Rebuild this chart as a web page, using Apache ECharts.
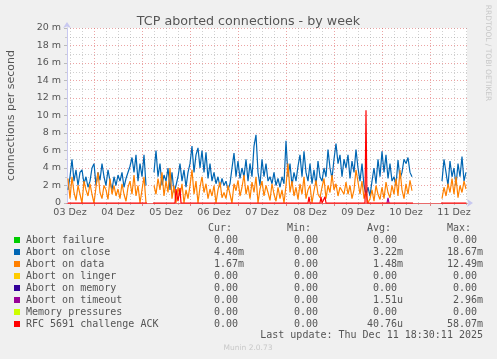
<!DOCTYPE html>
<html><head><meta charset="utf-8">
<script src="https://cdn.jsdelivr.net/npm/echarts@6/dist/echarts.min.js"></script>
<style>html,body{margin:0;padding:0;background:#f0f0f0;}#c{width:497px;height:359px;}</style>
</head><body><div id="c"></div>
<script>
// ---- data (values in milli-connections per second) ----
// x values are hours since 03 Dez 00:00; samples are hourly starting 03 Dez 11:00
const startHour = 11;
const xMin = 10.5, xMax = 210.5;
const dayLabels = ['03 Dez','04 Dez','05 Dez','06 Dez','07 Dez','08 Dez','09 Dez','10 Dez','11 Dez'];

const abortOnClose = [
 1.5,3.0,5.0,2.5,3.8,2.0,3.5, 3.8,2.2,3.0,1.8,2.5,4.0,
 4.5,2.0,3.5,2.6,4.5,3.0, 2.0,3.8,2.5,1.5,3.0,2.0,3.2,
 2.5,3.5,1.8,2.8,3.0,4.2, 5.2,3.5,5.5,2.5,4.5,3.0,5.5,2.0,
 null,null,null,
 3.5,6.0,3.0,4.5,2.0,3.2, 2.5,4.0,1.5,3.5,1.2,2.0, 3.0,4.5,2.5,3.8,1.8,3.5,
 4.5,6.5,3.5,5.5,6.3,4.0, 6.0,3.5,5.8,2.8,4.5,2.5, 3.5,2.2,3.0,1.8,2.8,2.0,
 2.5,1.5,2.2,4.0,5.7,3.0, 4.8,2.8,4.0,3.0,5.0,2.5, 4.5,3.0,6.5,7.8,3.5,2.0,
 5.0,3.0,4.5,2.5,3.0,2.2, 3.5,2.0,2.8,1.8,3.0,2.2, 7.1,3.0,4.5,2.0,3.5,2.5,
 4.2,5.5,3.0,5.9,3.5,2.5, 4.5,2.2,3.8,2.0,4.8,3.0, 2.5,4.0,3.0,6.1,4.0,2.8,
 5.0,6.8,4.5,5.5,3.0,5.0, 4.0,5.5,2.8,4.8,3.5,6.1, 4.0,2.5,4.5,2.0,1.0,1.8,
 0.8,2.5,4.0,2.2,5.0,3.0, 5.9,3.5,5.5,2.8,4.5,2.5, 3.0,2.0,4.9,2.8,3.5,5.0,
 4.5,5.2,3.5,3.0,
 null,null,null,null,null,null,null,null,null,null,null,null,null,null,
 2.5,5.0,3.5,2.0,4.8,3.0, 4.0,2.0,4.5,3.0,5.3,2.5,3.5
];
const abortOnData = [
 2.8,0.5,3.0,1.2,0.3,2.0,1.0, 0.0,2.5,1.5,0.8,2.2,1.0,
 0.0,1.8,3.5,1.2,0.5,2.0, 1.5,0.4,2.8,1.0,2.0,0.8,1.6,
 0.5,2.2,1.0,0.2,1.8,2.5, 1.0,3.2,0.8,2.0,0.0,1.5,3.0,0.0,
 null,null,null,
 2.0,1.0,2.8,1.5,3.5,0.8, 2.5,1.2,4.0,0.5,2.0,0.0, 1.8,0.8,2.2,0.0,1.5,0.5,
 2.0,3.8,1.0,2.5,0.0,1.8, 3.0,1.2,2.2,0.5,1.6,0.8, 2.0,0.0,1.5,2.4,0.6,1.2,
 0.5,2.0,1.0,0.0,2.2,1.4, 2.6,0.8,1.8,3.2,1.0,2.0, 0.5,2.4,1.2,3.0,0.0,1.6,
 2.5,0.8,2.0,1.2,0.3,2.2, 1.0,0.2,1.8,0.5,1.5,0.0, 2.0,4.5,1.2,2.5,0.8,1.8,
 0.4,2.2,1.0,3.0,0.5,1.5, 2.0,0.0,1.4,2.6,1.0,0.6, 1.8,2.8,0.5,2.0,1.2,3.2,
 1.5,2.2,0.8,1.8,2.0,1.0, 2.4,1.0,2.0,0.5,1.5,3.8, 4.0,1.0,2.5,0.5,1.2,0.0,
 0.5,1.5,0.2,2.0,1.0,0.4, 1.8,0.5,2.4,1.2,0.6,2.0, 1.0,2.8,0.8,3.8,1.5,0.5,
 2.2,1.0,2.6,1.4,
 null,null,null,null,null,null,null,null,null,null,null,null,null,null,
 0.5,1.8,0.8,2.2,1.2,2.8, 1.0,3.0,0.6,2.0,1.2,2.5,1.6
];
// RFC 5691 challenge ACK (sparse, hours / values); '-' marks missing data
const ackHours  = [11, 30, 50.5, 52, 53.5, 64.5, 65, 66, 67, 67.5, 131, 131.5, 132, 137, 137.5, 138, 139, 139.5, 140, 159.5, 160, 160.5, 183.5, 190, 197.5, 210];
const ackValues = [0, 0, 0, '-', 0, 0, 1.6, 0.2, 1.7, 0, 0, 0.7, 0, 0, 0.7, 0, 0, 0.7, 0, 0, 10.6, 0, 0, '-', 0, 0];
// Abort on timeout (sparse)
const timeoutHours  = [170.5, 171, 171.5];
const timeoutValues = [0, 0.6, 0];

// legend table
const legendNames = ['Abort failure','Abort on close','Abort on data','Abort on linger','Abort on memory','Abort on timeout','Memory pressures','RFC 5691 challenge ACK'];
const curValues = ['0.00','4.40m','1.67m','0.00','0.00','0.00','0.00','0.00'];
const minValues = ['0.00','0.00','0.00','0.00','0.00','0.00','0.00','0.00'];
const avgValues = ['0.00','3.22m','1.48m','0.00','0.00','1.51u','0.00','40.76u'];
const maxValues = ['0.00','18.67m','12.49m','0.00','0.00','2.96m','0.00','58.07m'];
const lastUpdate = 'Last update: Thu Dec 11 18:30:11 2025';

// ---- styles ----
const palette = ['#00cc00','#0066b3','#ff8000','#ffcc00','#330099','#990099','#ccff00','#ff0000'];
const mono = 'DejaVu Sans Mono';
const sans = 'DejaVu Sans';
const txt = '#555';

function fmt(s){ // munin style "%6.2lf%s"
  const m = s.match(/^([0-9.]+)(.*)$/);
  return m[1].padStart(6,' ') + m[2];
}

const midnights = [], noons = [], sixHours = [];
for (let d = 0; d <= 9; d++) {
  if (d*24 > xMin && d*24 < xMax) midnights.push(d*24);
  if (d*24+12 > xMin && d*24+12 < xMax) noons.push(d*24+12);
}
for (let h = 12; h < xMax; h += 6) if (h % 24 !== 0) sixHours.push(h);

const toPairs = (arr) => arr.map((v,i)=>[startHour+i, v === null ? '-' : v]);
const pairs = (xs, ys) => xs.map((x,i)=>[x, ys[i]]);

const graphics = [];
const rowY0 = 240, rowH = 12;
const hdrY = 228;
[['Cur:',208],['Min:',287],['Avg:',367],['Max:',447]].forEach(([t,x])=>{
  graphics.push({type:'text', x:x, y:hdrY, style:{text:t, font:'10px '+mono, fill:txt, textVerticalAlign:'middle'}});
});
legendNames.forEach((n,i)=>{
  const y = rowY0 + i*rowH;
  graphics.push({type:'rect', shape:{x:14, y:y-3, width:6, height:6}, style:{fill:palette[i]}});
  graphics.push({type:'text', x:26, y:y, style:{text:n, font:'10px '+mono, fill:txt, textVerticalAlign:'middle'}});
  graphics.push({type:'text', x:202, y:y, style:{text:fmt(curValues[i]), font:'10px '+mono, fill:txt, textVerticalAlign:'middle'}});
  graphics.push({type:'text', x:282, y:y, style:{text:fmt(minValues[i]), font:'10px '+mono, fill:txt, textVerticalAlign:'middle'}});
  graphics.push({type:'text', x:361, y:y, style:{text:fmt(avgValues[i]), font:'10px '+mono, fill:txt, textVerticalAlign:'middle'}});
  graphics.push({type:'text', x:441, y:y, style:{text:fmt(maxValues[i]), font:'10px '+mono, fill:txt, textVerticalAlign:'middle'}});
});
graphics.push({type:'text', x:483, y:335, style:{text:lastUpdate, font:'10px '+mono, fill:txt, textAlign:'right', textVerticalAlign:'middle'}});
graphics.push({type:'text', x:248, y:348, style:{text:'Munin 2.0.73', font:'7.5px '+sans, fill:'#c8c8c8', textAlign:'center', textVerticalAlign:'middle'}});
graphics.push({type:'text', x:488, y:53, rotation:-Math.PI/2, style:{text:'RRDTOOL / TOBI OETIKER', font:'7.5px '+sans, fill:'#c8c8c8', textAlign:'center', textVerticalAlign:'middle'}});

const lineSeries = (name, data, color, z) => ({
  name, type:'line', data, symbol:'none', connectNulls:false, z, clip:false,
  lineStyle:{color, width:1.2}, itemStyle:{color}, silent:true
});

const chart = echarts.init(document.getElementById('c'), null, {renderer:'canvas'});
chart.setOption({
  animation:false,
  backgroundColor:'#f0f0f0',
  title:{text:'TCP aborted connections - by week', left:'center', top:10,
    textStyle:{fontFamily:sans, fontSize:12.7, fontWeight:'normal', color:txt}},
  grid:{left:67, right:30, top:28, height:175, show:true, backgroundColor:'#ffffff', borderWidth:0,
    containLabel:false, outerBoundsMode:'none'},
  xAxis:[{
    type:'value', min:xMin, max:xMax, z:3,
    axisLine:{show:true, lineStyle:{color:'#e86a6a', width:1.2}},
    axisTick:{show:true, customValues:midnights, length:3, lineStyle:{color:'#e08080'}},
    axisLabel:{customValues:noons, margin:5, fontFamily:sans, fontSize:9.5, color:txt,
      formatter:(v)=>dayLabels[Math.round((v-12)/24)]},
    splitLine:{show:true, lineStyle:{color:'rgba(220,90,90,0.55)', type:[1,2], width:1}}
  },{
    type:'value', min:xMin, max:xMax, position:'bottom', z:1,
    axisLine:{show:true, lineStyle:{color:'#c8c8f0', width:1}, symbol:['none','arrow'], symbolSize:[6,6], symbolOffset:[0,6]},
    axisTick:{show:true, customValues:sixHours, length:2, lineStyle:{color:'#bbb'}},
    axisLabel:{show:false},
    splitLine:{show:true, lineStyle:{color:'rgba(150,150,150,0.45)', type:[1,2], width:1}}
  }],
  yAxis:{
    type:'value', min:0, max:20, interval:2,
    name:'connections per second', nameLocation:'middle', nameGap:50, nameRotate:90,
    nameTextStyle:{fontFamily:sans, fontSize:11, color:txt},
    axisLine:{show:true, lineStyle:{color:'#c8c8f0', width:1}, symbol:['none','arrow'], symbolSize:[6,6], symbolOffset:[0,6]},
    axisTick:{show:true, length:3, lineStyle:{color:'#bbb'}},
    minorTick:{show:true, splitNumber:2, length:2, lineStyle:{color:'#ccc'}},
    axisLabel:{margin:6, fontFamily:sans, fontSize:9.5, color:txt,
      formatter:(v)=> v===0 ? '0' : v+' m'},
    splitLine:{show:true, lineStyle:{color:'rgba(220,90,90,0.55)', type:[1,2], width:1}},
    minorSplitLine:{show:true, lineStyle:{color:'rgba(150,150,150,0.45)', type:[1,2], width:1}}
  },
  series:[
    lineSeries('Abort on close', toPairs(abortOnClose), palette[1], 4),
    lineSeries('Abort on data', toPairs(abortOnData), palette[2], 5),
    lineSeries('Abort on timeout', pairs(timeoutHours, timeoutValues), palette[5], 6),
    lineSeries('RFC 5691 challenge ACK', pairs(ackHours, ackValues), palette[7], 7)
  ],
  graphic:graphics
});
</script></body></html>
